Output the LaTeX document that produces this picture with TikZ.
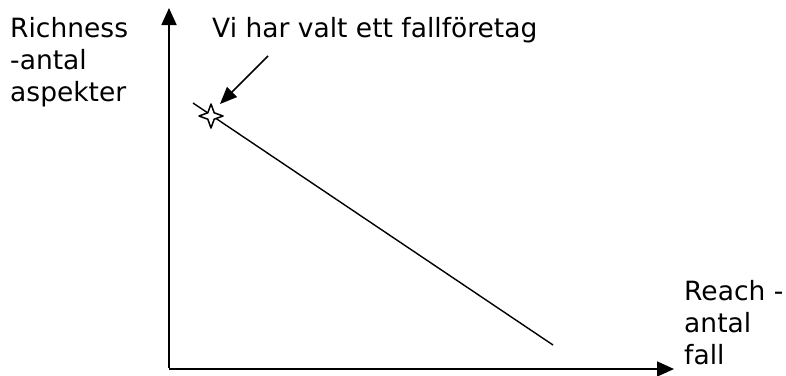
\documentclass[tikz,border=0pt]{standalone}
\usepackage{fontspec}
\setmainfont{DejaVu Sans}
\usepackage{tikz}
\usetikzlibrary{arrows.meta}

\begin{document}
\begin{tikzpicture}[
        x=1pt,y=-1pt,
        axis/.style={line width=1.8pt,-{Triangle[length=17pt,width=15pt]}},
        pointer/.style={line width=1.5pt,-{Triangle[length=17pt,width=14pt]}},
        lbl/.style={font=\fontsize{26.5}{32}\selectfont,align=left,inner sep=0pt}
      ]
        \useasboundingbox (0,0) rectangle (786,375);

        % axes
        \coordinate (origin) at (169,369);
        \coordinate (ytop) at (169,8);
        \coordinate (xend) at (674,369);
        \draw[axis] ([yshift=1pt]origin) -- (ytop);
        \draw[axis] (origin) -- (xend);

        % richness/reach line
        \coordinate (lstart) at (193,103);
        \coordinate (lend) at (553,345);
        \draw[line width=1.4pt] (lstart) -- (lend);
        \coordinate (case) at (211,116);
        \draw[line width=1.5pt,fill=white,line join=round]
          (case) ++(0,-12) -- ++(3.2,8.8) -- ++(8.8,3.2) -- ++(-8.8,3.2)
          -- ++(-3.2,8.8) -- ++(-3.2,-8.8) -- ++(-8.8,-3.2) -- ++(8.8,-3.2) -- cycle;

        % labels
        \node[lbl,anchor=base west] (ylab) at (10,101) {Richness\\-antal\\aspekter};
        \node[lbl,anchor=base west] (xlab) at (684,364) {Reach -\\antal\\fall};
        \node[lbl,anchor=base west] (note) at (212,37) {Vi har valt ett fallföretag};
        \coordinate (ptail) at (268,56);
        \coordinate (ptip) at (220,104);
        \draw[pointer] (ptail) -- (ptip);
      \end{tikzpicture}
\end{document}
